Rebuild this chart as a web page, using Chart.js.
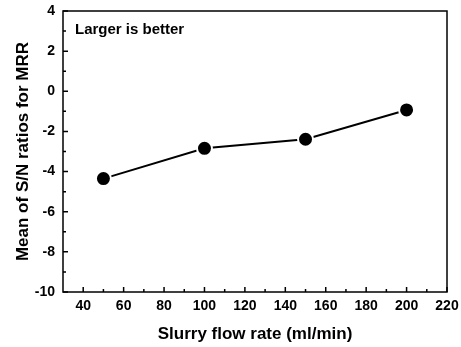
<!DOCTYPE html>
<html>
<head>
<meta charset="utf-8">
<script src="https://cdn.jsdelivr.net/npm/chart.js@4/dist/chart.umd.min.js"></script>
<style>
  html, body { margin: 0; padding: 0; background: #fff; }
  #wrap { width: 461px; height: 347px; }
</style>
</head>
<body>
<div id="wrap"><canvas id="c" width="461" height="347"></canvas></div>
<script>
// data
const flowRates = [50, 100, 150, 200];
const snMeans = [-4.35, -2.84, -2.39, -0.93];
const xTicks = [40, 60, 80, 100, 120, 140, 160, 180, 200, 220];
const yTicks = [-10, -8, -6, -4, -2, 0, 2, 4];
const xMinor = [50, 70, 90, 110, 130, 150, 170, 190, 210];
const yMinor = [-9, -7, -5, -3, -1, 1, 3];

const font = 'Liberation Sans, Arial, sans-serif';

// frame, inward ticks and the note
const framePlugin = {
    id: 'frame',
    afterDraw(chart) {
        const { ctx, chartArea: a, scales } = chart;
        ctx.save();
        ctx.strokeStyle = '#000';
        ctx.lineWidth = 1.5;
        ctx.strokeRect(a.left, a.top, a.right - a.left, a.bottom - a.top);

        ctx.beginPath();
        xTicks.forEach((v) => {
            const x = scales.x.getPixelForValue(v);
            ctx.moveTo(x, a.bottom); ctx.lineTo(x, a.bottom - 5);
        });
        xMinor.forEach((v) => {
            const x = scales.x.getPixelForValue(v);
            ctx.moveTo(x, a.bottom); ctx.lineTo(x, a.bottom - 3);
        });
        yTicks.forEach((v) => {
            const y = scales.y.getPixelForValue(v);
            ctx.moveTo(a.left, y); ctx.lineTo(a.left + 5, y);
        });
        yMinor.forEach((v) => {
            const y = scales.y.getPixelForValue(v);
            ctx.moveTo(a.left, y); ctx.lineTo(a.left + 3, y);
        });
        ctx.stroke();

        ctx.fillStyle = '#000';
        ctx.font = 'bold 15px ' + font;
        ctx.textBaseline = 'middle';
        ctx.fillText('Larger is better', a.left + 12, a.top + 19);
        ctx.restore();
    },
};

new Chart(document.getElementById('c'), {
    type: 'line',
    data: {
        datasets: [{
            data: flowRates.map((x, i) => ({ x, y: snMeans[i] })),
            borderColor: '#000',
            borderWidth: 2,
            pointRadius: 7.5,
            pointBackgroundColor: '#000',
            pointBorderColor: '#fff',
            pointBorderWidth: 2,
            tension: 0,
        }],
    },
    options: {
        responsive: false,
        animation: false,
        layout: { padding: { top: 11, right: 14, left: 0, bottom: 0 } },
        plugins: { legend: { display: false }, tooltip: { enabled: false } },
        scales: {
            x: {
                type: 'linear',
                min: 30,
                max: 220,
                afterBuildTicks: (s) => { s.ticks = xTicks.map((v) => ({ value: v })); },
                afterFit: (s) => { s.height = 55; s.paddingLeft = 0; s.paddingRight = 0; },
                grid: { display: false, drawTicks: false },
                border: { display: false },
                ticks: { color: '#000', padding: 6, font: { family: font, size: 14, weight: 'bold' } },
                title: {
                    display: true,
                    text: 'Slurry flow rate (ml/min)',
                    color: '#000',
                    padding: { top: 2, bottom: 2 },
                    font: { family: font, size: 17, weight: 'bold' },
                },
            },
            y: {
                min: -10,
                max: 4,
                afterBuildTicks: (s) => { s.ticks = yTicks.map((v) => ({ value: v })); },
                afterFit: (s) => { s.width = 63; s.paddingTop = 0; s.paddingBottom = 0; },
                grid: { display: false, drawTicks: false },
                border: { display: false },
                ticks: { color: '#000', padding: 8, font: { family: font, size: 14, weight: 'bold' } },
                title: {
                    display: true,
                    text: 'Mean of S/N ratios for MRR',
                    color: '#000',
                    padding: { top: 13, bottom: 4 },
                    font: { family: font, size: 17, weight: 'bold' },
                },
            },
        },
    },
    plugins: [framePlugin],
});
</script>
</body>
</html>
